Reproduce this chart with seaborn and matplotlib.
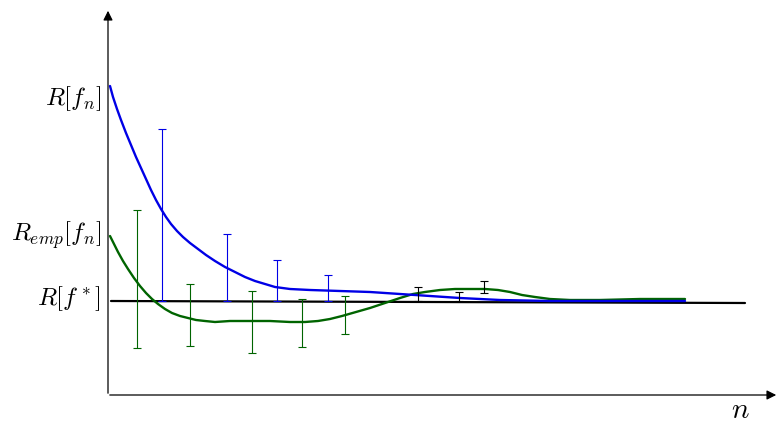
import matplotlib
matplotlib.use("Agg")
import matplotlib.pyplot as plt
import seaborn as sns
import pandas as pd
import numpy as np

# ---- data (x = n, y = risk in screen units, down is lower risk) ----
blue_x = [110, 113, 117, 121, 126, 131, 136, 141, 146, 151, 156, 161, 166, 171, 177, 183, 190, 198, 206, 215, 225, 235, 245, 255, 265, 275, 290, 310, 340, 370, 400, 430, 460, 500, 550, 600, 650, 685]
blue_y = [86, 97, 109, 120, 133, 145, 157, 168, 179, 190, 200, 209, 217, 224, 231, 237, 243, 249, 255, 261, 267, 272, 277, 281, 284, 287, 289, 290, 291, 292, 294, 296, 298, 300, 301, 301, 301, 301]

green_x = [110, 114, 118, 123, 128, 134, 140, 146, 152, 158, 165, 172, 180, 188, 196, 205, 215, 230, 250, 270, 290, 305, 318, 330, 342, 356, 370, 385, 400, 413, 425, 440, 455, 470, 485, 498, 510, 522, 535, 550, 570, 600, 640, 685]
green_y = [236, 244, 252, 261, 269, 278, 286, 293, 299, 304, 309, 313, 316, 318, 320, 321, 322, 321, 321, 321, 322, 322, 321, 319, 316, 312, 308, 303, 298, 294, 292, 290, 289, 289, 289, 290, 292, 295, 297, 299, 300, 300, 299, 299]

best_x = [111, 745]
best_y = [301, 303]

blue_bar_x = [162, 227, 277, 328]
blue_bar_top = [129, 234, 260, 275]
blue_bar_bot = [301, 301, 301, 301]

green_bar_x = [137, 190, 252, 302, 345]
green_bar_top = [210, 284, 291, 299, 296]
green_bar_bot = [348, 346, 353, 347, 334]

black_bar_x = [418, 459, 484]
black_bar_top = [287, 292, 281]
black_bar_bot = [301, 301, 293]

labels = [r"$R[f_n]$", r"$R_{emp}[f_n]$", r"$R[f^*]$"]
label_y = [99, 235, 299]

BLUE = "#0000e6"
GREEN = "#006400"

sns.set_theme(style="white")
plt.rcParams["mathtext.fontset"] = "cm"
plt.rcParams["font.family"] = ["DejaVu Sans"]
plt.rcParams["text.color"] = "black"

fig = plt.figure(figsize=(7.81, 4.23), dpi=100)
ax = fig.add_axes([0, 0, 1, 1])
ax.set_xlim(0, 781)
ax.set_ylim(423, 0)
ax.axis("off")

df_b = pd.DataFrame({"x": blue_x, "y": blue_y})
df_g = pd.DataFrame({"x": green_x, "y": green_y})
df_k = pd.DataFrame({"x": best_x, "y": best_y})

sns.lineplot(data=df_k, x="x", y="y", ax=ax, color="black", linewidth=1.6, sort=False)
sns.lineplot(data=df_g, x="x", y="y", ax=ax, color=GREEN, linewidth=1.7, sort=False)
sns.lineplot(data=df_b, x="x", y="y", ax=ax, color=BLUE, linewidth=1.7, sort=False)

def bars(xs, tops, bots, color):
    xs = np.asarray(xs, float)
    tops = np.asarray(tops, float)
    bots = np.asarray(bots, float)
    ax.vlines(xs, tops, bots, color=color, linewidth=0.8)
    ax.hlines(np.concatenate([tops, bots]), np.concatenate([xs, xs]) - 4,
              np.concatenate([xs, xs]) + 4, color=color, linewidth=0.8)

bars(blue_bar_x, blue_bar_top, blue_bar_bot, BLUE)
bars(green_bar_x, green_bar_top, green_bar_bot, GREEN)
bars(black_bar_x, black_bar_top, black_bar_bot, "black")

# axes with arrows
ax.annotate("", xy=(108, 8), xytext=(108, 396),
            arrowprops=dict(arrowstyle="-|>", color="black", lw=0.9, mutation_scale=14))
ax.annotate("", xy=(779, 395), xytext=(107, 395),
            arrowprops=dict(arrowstyle="-|>", color="black", lw=0.9, mutation_scale=14))

for t, y in zip(labels, label_y):
    ax.text(101, y, t, ha="right", va="center", fontsize=18, color="black")
ax.text(740, 410, r"$n$", ha="center", va="center", fontsize=21, color="black")

fig.savefig("out.png", dpi=100)
